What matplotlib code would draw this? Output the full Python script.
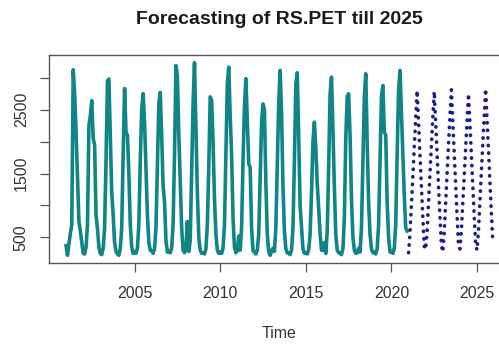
import numpy as np
import matplotlib
matplotlib.use("Agg")
import matplotlib.pyplot as plt

plt.rcParams['font.family'] = ['Liberation Sans', 'DejaVu Sans']

# monthly RS.PET series, Jan 2001 - Dec 2020 (one row per year, Jan..Dec)
start_year = 2001
observed = [
    [370, 220, 400, 560, 700, 3125, 2750, 2150, 1450, 750, 600, 420],
    [250, 240, 350, 700, 2250, 2400, 2640, 2050, 1950, 850, 640, 350],
    [250, 230, 330, 650, 1700, 2950, 2980, 2100, 1200, 850, 420, 280],
    [240, 220, 330, 650, 1800, 2830, 2150, 2100, 1500, 700, 350, 250],
    [280, 250, 330, 700, 1700, 2500, 2750, 2300, 1600, 850, 420, 300],
    [290, 250, 320, 650, 1600, 2600, 2770, 2100, 1300, 1050, 450, 270],
    [290, 260, 330, 700, 1800, 3190, 3030, 2100, 1350, 650, 300, 260],
    [320, 750, 280, 450, 1500, 2600, 3235, 2200, 1200, 500, 300, 250],
    [260, 240, 320, 700, 1600, 2700, 2650, 2000, 1100, 550, 300, 250],
    [270, 250, 330, 700, 1800, 2900, 3166, 2400, 1800, 800, 350, 260],
    [290, 520, 300, 650, 1700, 2550, 2984, 2300, 1650, 1600, 650, 290],
    [270, 240, 300, 550, 1400, 2300, 2590, 2500, 1350, 550, 280, 220],
    [290, 330, 280, 650, 1600, 2600, 3114, 2450, 1300, 600, 320, 260],
    [250, 230, 300, 650, 1700, 2900, 3078, 2100, 1000, 650, 320, 250],
    [260, 240, 310, 550, 1200, 2000, 2303, 1900, 1350, 950, 560, 300],
    [300, 420, 250, 600, 1600, 2750, 3009, 2200, 1300, 550, 300, 260],
    [250, 230, 320, 800, 2050, 2700, 2750, 2100, 1100, 500, 300, 250],
    [260, 330, 270, 650, 1700, 2700, 3062, 2000, 1050, 550, 320, 260],
    [270, 240, 320, 700, 1700, 2700, 2878, 2150, 2100, 1050, 500, 270],
    [280, 250, 330, 700, 1800, 2800, 3114, 2450, 1750, 1150, 650, 600],
]

# point forecasts, Jan 2021 - Dec 2025
forecast_start = 2021
forecast = [
    [260, 560, 1010, 1460, 1910, 2360, 2800, 2300, 1800, 1300, 800, 360],
    [310, 600, 1050, 1500, 1950, 2380, 2785, 2300, 1800, 1300, 820, 380],
    [270, 580, 1040, 1500, 1960, 2400, 2810, 2310, 1820, 1320, 830, 370],
    [320, 600, 1030, 1460, 1900, 2330, 2750, 2280, 1800, 1320, 840, 380],
    [300, 610, 1060, 1510, 1960, 2400, 2827, 2350, 1870, 1380, 900, 430],
]

obs = np.array(observed, dtype=float).ravel()
fc = np.array(forecast, dtype=float).ravel()
t_obs = start_year + np.arange(obs.size) / 12
t_fc = forecast_start + np.arange(fc.size) / 12

fig = plt.figure(figsize=(4.99, 3.45), dpi=100)
ax = fig.add_axes([0.0982, 0.2377, 0.9235, 0.6029])

ax.plot(t_obs, obs, color='#0f8585', lw=2.6, solid_joinstyle='round')
ax.plot(t_fc, fc, color='#1c1c8c', lw=2.6, dashes=(0.1, 2.0),
        dash_capstyle='round')

# R style 4% padding around the data range
all_t = np.concatenate([t_obs, t_fc])
all_v = np.concatenate([obs, fc])
tpad = 0.04 * (all_t.max() - all_t.min())
vpad = 0.04 * (all_v.max() - all_v.min())
ax.set_xlim(all_t.min() - tpad, all_t.max() + tpad)
ax.set_ylim(all_v.min() - vpad, all_v.max() + vpad)

xt = [2005, 2010, 2015, 2020, 2025]
ax.set_xticks(xt)
ax.set_xticklabels([str(v) for v in xt])
yt = [500, 1000, 1500, 2000, 2500, 3000]
ax.set_yticks(yt)
ax.set_yticklabels(['500', '', '1500', '', '2500', ''], rotation=90,
                   va='center')

ax.tick_params(axis='both', length=6.5, width=0.9, color='#555555',
               labelsize=11.5, labelcolor='#333333')
ax.tick_params(axis='x', pad=10)
ax.tick_params(axis='y', pad=8)
for s in ax.spines.values():
    s.set_color('#555555')
    s.set_linewidth(1.0)

ax.set_xlabel('Time', fontsize=11.5, color='#333333', labelpad=18)
ax.set_title('Forecasting of RS.PET till 2025', fontsize=14,
             fontweight='bold', color='#1a1a1a', pad=22)

fig.savefig('out.png', dpi=100)
